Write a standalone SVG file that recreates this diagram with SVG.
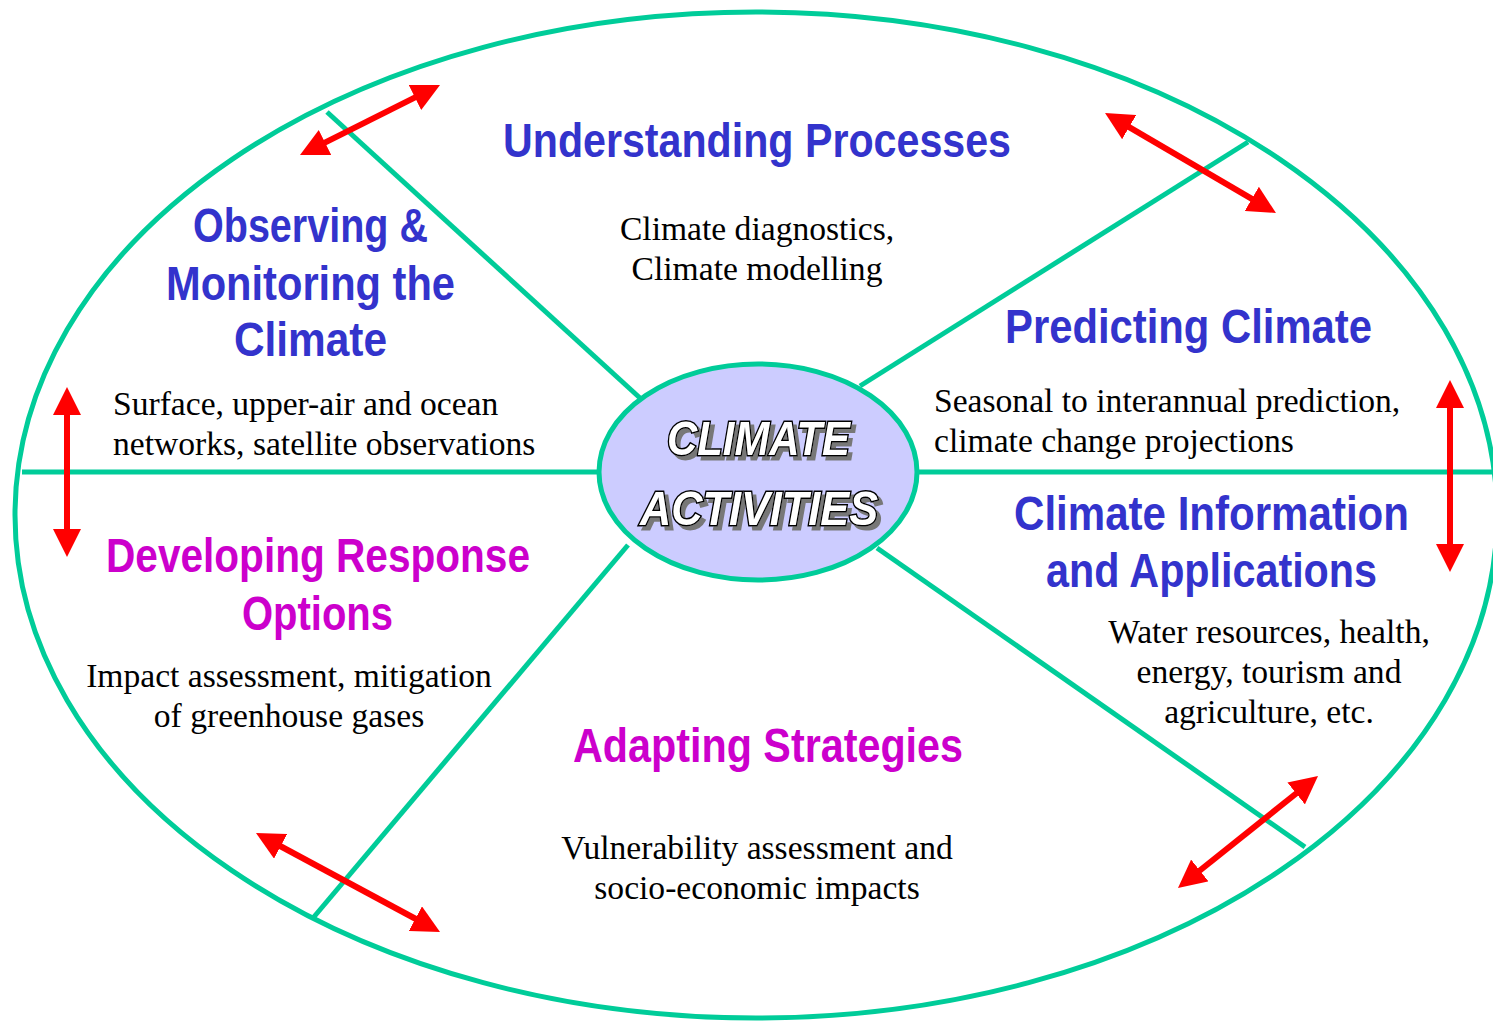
<svg xmlns="http://www.w3.org/2000/svg" width="1493" height="1021" viewBox="0 0 1493 1021">
<style>
.ring{fill:none;stroke:#00CC99;stroke-width:5}
.spoke{stroke:#00CC99;stroke-width:5;fill:none}
.arr{stroke:#FF0000;stroke-width:6;fill:none;marker-start:url(#ah);marker-end:url(#ah)}
.t{font-family:"Liberation Sans",Arial,sans-serif;font-weight:bold;font-size:48px}
.blue{fill:#3333CC}
.mag{fill:#CC00CC}
.b{font-family:"Liberation Serif","Times New Roman",serif;font-size:33.6px;fill:#000}
.c{font-family:"Liberation Sans",Arial,sans-serif;font-weight:bold;font-style:italic;font-size:48px;fill:#FFFFFF;stroke:#000000;stroke-width:3;paint-order:stroke;filter:url(#shadow)}
</style>
<defs>
<marker id="ah" markerUnits="userSpaceOnUse" markerWidth="28" markerHeight="28" viewBox="0 0 28 28" refX="8" refY="14" orient="auto-start-reverse">
<path d="M0,0 L28,14 L0,28 z" fill="#FF0000"/>
</marker>
<filter id="shadow" x="-10%" y="-30%" width="130%" height="160%">
<feOffset in="SourceAlpha" dx="4" dy="4" result="o"/>
<feFlood flood-color="#777777"/>
<feComposite in2="o" operator="in" result="s"/>
<feMerge><feMergeNode in="s"/><feMergeNode in="SourceGraphic"/></feMerge>
</filter>
</defs>
<rect width="1493" height="1021" fill="#FFFFFF"/>
<ellipse class="ring" cx="756" cy="515" rx="741" ry="503"/>
<g id="connectors">
<line class="spoke" x1="22" y1="472" x2="600" y2="472"/>
<line class="spoke" x1="916" y1="472" x2="1493" y2="472"/>
<line class="spoke" x1="327" y1="112" x2="640" y2="398"/>
<line class="spoke" x1="1248" y1="142" x2="860" y2="386"/>
<line class="spoke" x1="628" y1="545" x2="313" y2="918"/>
<line class="spoke" x1="877" y1="548" x2="1305" y2="847"/>
<line class="arr" x1="317.9" y1="146.1" x2="422.1" y2="93.9"/>
<line class="arr" x1="1122.3" y1="123.1" x2="1258.7" y2="202.9"/>
<line class="arr" x1="1450" y1="400" x2="1450" y2="552"/>
<line class="arr" x1="67" y1="407" x2="67" y2="537"/>
<line class="arr" x1="1193.6" y1="875.5" x2="1302.4" y2="788.5"/>
<line class="arr" x1="273.6" y1="842.5" x2="422.4" y2="922.5"/>
</g>
<g id="center">
<ellipse cx="758" cy="472" rx="159" ry="108" fill="#CCCCFF" stroke="#00CC99" stroke-width="5"/>
<text class="c" x="667" y="455" textLength="183" lengthAdjust="spacingAndGlyphs">CLIMATE</text>
<text class="c" x="640" y="525" textLength="238" lengthAdjust="spacingAndGlyphs">ACTIVITIES</text>
</g>
<g id="understanding">
<text class="t blue" x="503" y="157" textLength="508" lengthAdjust="spacingAndGlyphs">Understanding Processes</text>
<text class="b" x="757" y="240" text-anchor="middle">Climate diagnostics,</text>
<text class="b" x="757" y="280" text-anchor="middle">Climate modelling</text>
</g>
<g id="observing">
<text class="t blue" x="193" y="242" textLength="235" lengthAdjust="spacingAndGlyphs">Observing &amp;</text>
<text class="t blue" x="166" y="300" textLength="289" lengthAdjust="spacingAndGlyphs">Monitoring the</text>
<text class="t blue" x="234" y="356" textLength="153" lengthAdjust="spacingAndGlyphs">Climate</text>
<text class="b" x="113" y="415">Surface, upper-air and ocean</text>
<text class="b" x="113" y="455">networks, satellite observations</text>
</g>
<g id="predicting">
<text class="t blue" x="1005" y="343" textLength="367" lengthAdjust="spacingAndGlyphs">Predicting Climate</text>
<text class="b" x="934" y="412">Seasonal to interannual prediction,</text>
<text class="b" x="934" y="452">climate change projections</text>
</g>
<g id="information">
<text class="t blue" x="1014" y="530" textLength="395" lengthAdjust="spacingAndGlyphs">Climate Information</text>
<text class="t blue" x="1046" y="587" textLength="331" lengthAdjust="spacingAndGlyphs">and Applications</text>
<text class="b" x="1269" y="643" text-anchor="middle">Water resources, health,</text>
<text class="b" x="1269" y="683" text-anchor="middle">energy, tourism and</text>
<text class="b" x="1269" y="723" text-anchor="middle">agriculture, etc.</text>
</g>
<g id="developing">
<text class="t mag" x="106" y="572" textLength="424" lengthAdjust="spacingAndGlyphs">Developing Response</text>
<text class="t mag" x="242" y="630" textLength="151" lengthAdjust="spacingAndGlyphs">Options</text>
<text class="b" x="289" y="687" text-anchor="middle">Impact assessment, mitigation</text>
<text class="b" x="289" y="727" text-anchor="middle">of greenhouse gases</text>
</g>
<g id="adapting">
<text class="t mag" x="573" y="762" textLength="390" lengthAdjust="spacingAndGlyphs">Adapting Strategies</text>
<text class="b" x="757" y="859" text-anchor="middle">Vulnerability assessment and</text>
<text class="b" x="757" y="899" text-anchor="middle">socio-economic impacts</text>
</g>
</svg>
